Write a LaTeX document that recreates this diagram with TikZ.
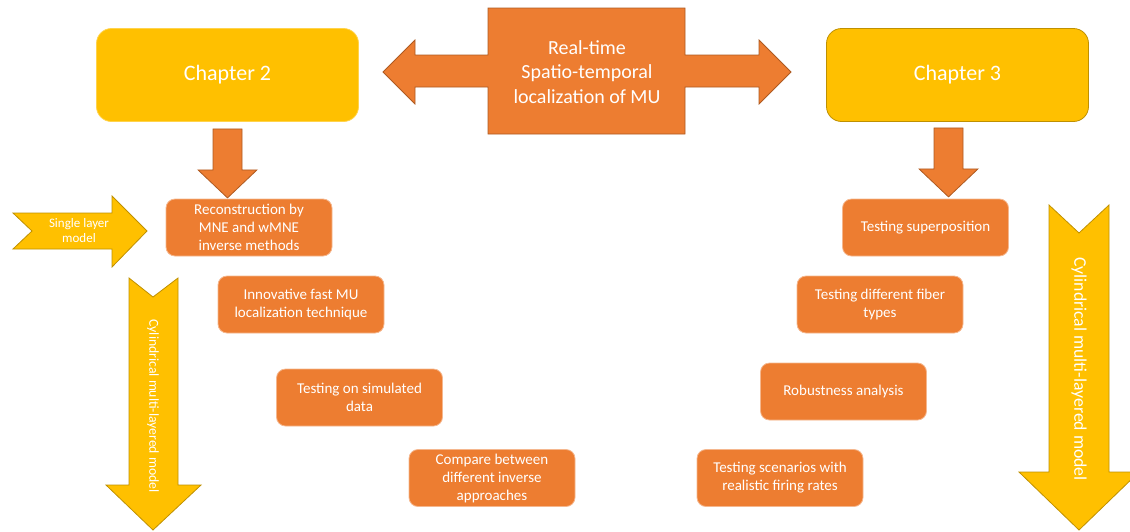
\documentclass[tikz,border=0pt]{standalone}
\usepackage{fontspec}
\setmainfont{Carlito}
\usetikzlibrary{calc}
\definecolor{mainorange}{HTML}{ED7D31}
\definecolor{darkorange}{HTML}{AE5A21}
\definecolor{mainyellow}{HTML}{FFC000}
\definecolor{darkyellow}{HTML}{BF9000}
\begin{document}
\begin{tikzpicture}[x=1pt,y=-1pt,
	chapbox/.style={fill=mainyellow, draw=mainyellow!70!white, line width=0.8pt, rounded corners=15pt, minimum width=262pt, minimum height=93pt, text=white, font=\fontsize{22}{26}\selectfont},
	taskbox/.style={fill=mainorange, draw=mainorange!55!white, line width=0.8pt, rounded corners=9pt, minimum width=166pt, minimum height=57pt, inner sep=2pt, text=white, align=center, font=\fontsize{15}{18}\selectfont},
	orangearrow/.style={fill=mainorange, draw=darkorange, line width=0.8pt},
	yellowarrow/.style={fill=mainyellow, draw=darkyellow, line width=0.8pt},
	armlabel/.style={text=white, align=center}]
	\useasboundingbox (0,0) rectangle (1130,531);
	\node[chapbox] (ch2) at (227.5,75) {Chapter 2};
	\node[chapbox, draw=darkyellow] (ch3) at (957.5,75) {Chapter 3};
	\draw[orangearrow] (383,72) -- (415,40) -- (415,55) -- (488,55) -- (488,8) -- (685,8) -- (685,55) -- (759,55) -- (759,40) -- (791,72) -- (759,104) -- (759,87) -- (685,87) -- (685,134) -- (488,134) -- (488,87) -- (415,87) -- (415,104) -- cycle;
	\node[armlabel, font=\fontsize{20}{24.5}\selectfont] (mu) at (587,72) {Real-time\\Spatio-temporal\\localization of MU};
	\node[taskbox] (rec) at (249,227.5) {Reconstruction by\\MNE and wMNE\\inverse methods};
	\node[taskbox] (fast) at (301,304.5) {Innovative fast MU\\localization technique};
	\node[taskbox] (sim) at (359.5,397.5) {Testing on simulated\\data};
	\node[taskbox] (cmp) at (492,478) {Compare between\\different inverse\\approaches};
	\node[taskbox] (sup) at (925.5,227.5) {Testing superposition};
	\node[taskbox] (fiber) at (880,304.5) {Testing different fiber\\types};
	\node[taskbox] (rob) at (843.5,391.5) {Robustness analysis};
	\node[taskbox] (real) at (780,478) {Testing scenarios with\\realistic firing rates};
	\draw[orangearrow] ($(ch2.south)+(-14.5,7)$) -- ++(29,0) -- ++(0,41) -- ++(15,0) -- ++(-29.5,28) -- ++(-29.5,-28) -- ++(15,0) -- cycle;
	\draw[orangearrow] ($(ch3.south)+(-23.5,6)$) -- ++(29,0) -- ++(0,41) -- ++(15,0) -- ++(-29.5,28) -- ++(-29.5,-28) -- ++(15,0) -- cycle;
	\draw[yellowarrow] (13,213) -- (112,213) -- (112,196) -- (147,231) -- (112,267) -- (112,249) -- (13,249) -- (32,231) -- cycle;
	\node[armlabel, font=\fontsize{13}{15}\selectfont] (single) at (79,231) {Single layer\\model};
	\draw[yellowarrow] (129,278) -- (153,297) -- (178,278) -- (178,485) -- (201,485) -- (153,530) -- (106,485) -- (129,485) -- cycle;
	\node[armlabel, rotate=-90, font=\fontsize{13.7}{16}\selectfont] (cylleft) at (153,406) {Cylindrical multi-layered model};
	\draw[yellowarrow] (1049,205) -- (1079,233) -- (1109,205) -- (1109,472) -- (1139,472) -- (1079,530) -- (1019,472) -- (1049,472) -- cycle;
	\node[armlabel, rotate=-90, font=\fontsize{17.7}{20}\selectfont] (cylright) at (1079,369) {Cylindrical multi-layered model};
\end{tikzpicture}
\end{document}
